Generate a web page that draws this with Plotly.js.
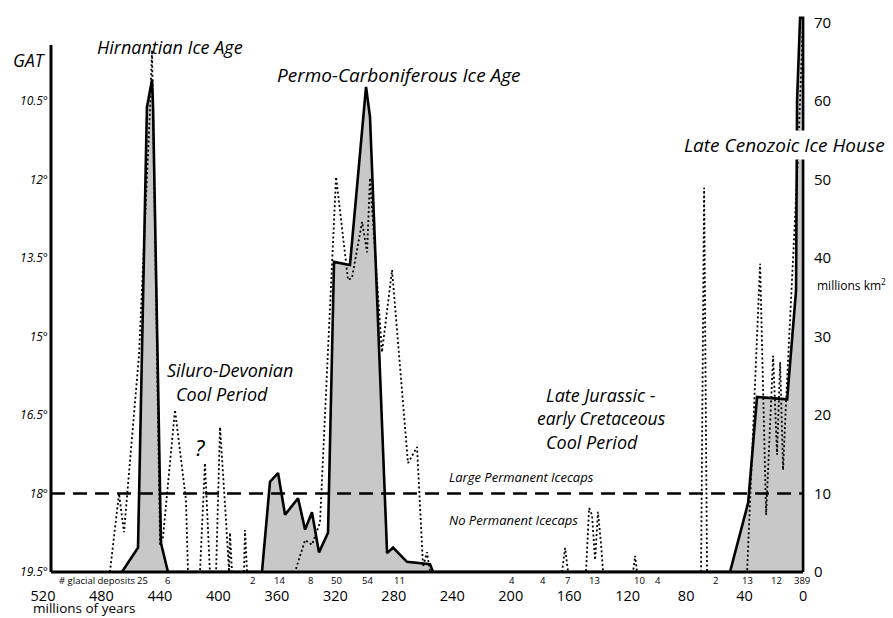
<!DOCTYPE html>
<html><head><meta charset="utf-8">
<script src="https://cdn.plot.ly/plotly-3.0.1.min.js"></script>
<style>html,body{margin:0;padding:0;background:#fff}</style>
</head><body><div id="chart" style="width:893px;height:618px"></div>
<script>
// ---- data ----
const iceAge  = [466,455,448.9,445.4,444.7,439.3,434.5,
                 370.2,364.7,359.2,354.4,345.5,340.7,336,331.2,325,320.9,310,299,296.3,284.6,280.5,271,260.7,255.2,253.2,
                 50,37.6,31.5,10.9,4.8,4.1,2.05,0,0];
const iceArea = [0,3.1,59.2,62.7,59.2,3.7,0,
                 0,11.5,12.6,7.3,9.4,5.4,7.6,2.5,5.0,39.5,39.1,61.8,58,2.4,3.1,1.3,1.1,1.0,0,
                 0,8.8,22.3,22.0,35.9,60.1,70.6,70.6,0];
const gatAge = [474.2,468.0,464.6,454.3,446.8,445.4,439.9,437.9,429.7,422.2,420.8,
                412.6,409.2,405.8,401.6,398.9,394.8,392.7,392.1,390.7,382.5,381.8,380.4,
                347.6,340.7,336.0,330.5,319.5,311.3,308.6,301.7,298.3,296.3,288.1,281.2,270.3,264.1,260.0,257.3,255.2,
                164.9,162.8,160.8,148.5,146.4,144.4,142.3,140.3,138.2,136.8,116.3,114.9,113.6,
                69.8,67.7,65.7,38.3,29.4,25.3,20.5,17.8,15.7,13.7,11.6,6.8,3.4,1.4,0];
const gatValue = [19.5,18.0,18.74,15.35,10.67,9.53,18.98,18.83,16.40,18.12,19.5,
                19.5,17.42,19.5,19.5,16.73,18.51,19.5,18.75,19.5,19.5,18.70,19.5,
                19.5,18.89,18.98,18.56,11.95,13.92,13.88,12.81,13.39,11.97,15.30,13.73,17.42,17.11,19.40,19.12,19.5,
                19.5,19.04,19.5,19.5,18.28,18.41,19.27,18.35,18.98,19.5,19.5,19.19,19.5,
                19.5,12.16,19.5,19.5,13.61,18.41,15.37,17.26,15.49,17.55,16.21,13.48,11.51,9.97,8.91];
const depositAge   = [451.6,434.5,377,358,337,319,298,276,199,178,161,143,112,99,60,38,18,0.7];
const depositCount = ['25','6','2','14','8','50','54','11','4','4','7','13','10','4','2','13','12','389'];
const xTickVals = [520,480,440,400,360,320,280,240,200,160,120,80,40,0];
const gatTickVals = [10.5,12,13.5,15,16.5,18,19.5];
const gatTickText = ['10.5°','12°','13.5°','15°','16.5°','18°','19.5°'];
const areaTickVals = [0,10,20,30,40,50,60,70];
const thresholdGAT = 18;

// ---- geometry helpers (pixels -> paper) ----
const PL=43, PR=806, PT=10, PB=572;
const px = x => (x-PL)/(PR-PL);
const py = y => (PB-y)/(PB-PT);
const it = (s)=>({family:'Open Sans', size:s, style:'italic', color:'#000'});
const up = (s)=>({family:'Open Sans', size:s, color:'#000'});

const traces = [
  {x:iceAge, y:iceArea, yaxis:'y', type:'scatter', mode:'lines', fill:'tozeroy',
   fillcolor:'#c8c8c8', line:{color:'#000', width:2.6}, hoverinfo:'skip'},
  {x:gatAge, y:gatValue, yaxis:'y2', type:'scatter', mode:'lines',
   line:{color:'#000', width:1.8, dash:'2px,2.5px'}, hoverinfo:'skip'}
];

const ann = [];
function A(text, x, y, font, extra){ ann.push(Object.assign({text, xref:'paper', yref:'paper', x:px(x), y:py(y), showarrow:false, font, xanchor:'center', yanchor:'middle'}, extra||{})); }
A('GAT', 29, 60, it(17.5));
A('Hirnantian Ice Age', 170, 47, it(18));
A('Permo-Carboniferous Ice Age', 399, 75, it(19));
A('Late Cenozoic Ice House', 784, 145, it(19), {bgcolor:'#fff'});
A('Siluro-Devonian', 230, 370, it(18));
A('Cool Period', 222, 394, it(18));
A('?', 200, 447, it(22));
A('Late Jurassic -', 601, 395, it(18));
A('early Cretaceous', 601, 418, it(17.5));
A('Cool Period', 592, 442, it(18));
A('Large Permanent Icecaps', 521, 477, it(13));
A('No Permanent Icecaps', 513, 520, it(13));
A('# glacial deposits', 97, 580, up(9.5));
A('millions of years', 32, 618, up(13.5), {xanchor:'left', yanchor:'bottom', borderpad:0});
A('millions km<sup>2</sup>', 815, 285, up(12), {xanchor:'left'});
depositAge.forEach((a,i)=>{
  ann.push({text:depositCount[i], xref:'x', yref:'paper', x:a, y:py(580), showarrow:false,
            font:up(9.5), xanchor:'center', yanchor:'middle'});
});

const layout = {
  width:893, height:618, paper_bgcolor:'#fff', plot_bgcolor:'rgba(0,0,0,0)',
  margin:{l:PL, r:893-PR, t:PT, b:618-PB}, showlegend:false,
  xaxis:{range:[520,-2], tickvals:xTickVals, ticks:'', showgrid:false, zeroline:false, showline:false,
         tickfont:up(14.5), ticklabelstandoff:13},
  yaxis:{range:[0,71.59], side:'right', tickvals:areaTickVals, ticks:'', showgrid:false, zeroline:false,
         showline:false, tickfont:up(15), ticklabelstandoff:7},
  yaxis2:{range:[19.5,8.761], overlaying:'y', side:'left', anchor:'free', position:px(51),
          tickvals:gatTickVals, ticktext:gatTickText, ticks:'', showgrid:false, zeroline:false, showline:false,
          tickfont:it(12), ticklabelstandoff:3},
  shapes:[
    {type:'line', xref:'paper', yref:'y2', x0:px(51), x1:px(51), y0:19.5, y1:9.43, line:{color:'#000', width:3}},
    {type:'line', xref:'x', yref:'paper', x0:514.5, x1:0, y0:0, y1:0, line:{color:'#000', width:3}},
    {type:'line', xref:'x', yref:'y2', x0:514.5, x1:0, y0:thresholdGAT, y1:thresholdGAT, line:{color:'#000', width:2.5, dash:'14px,8px'}}
  ],
  annotations:ann
};
Plotly.newPlot('chart', traces, layout, {staticPlot:true});
</script></body></html>
